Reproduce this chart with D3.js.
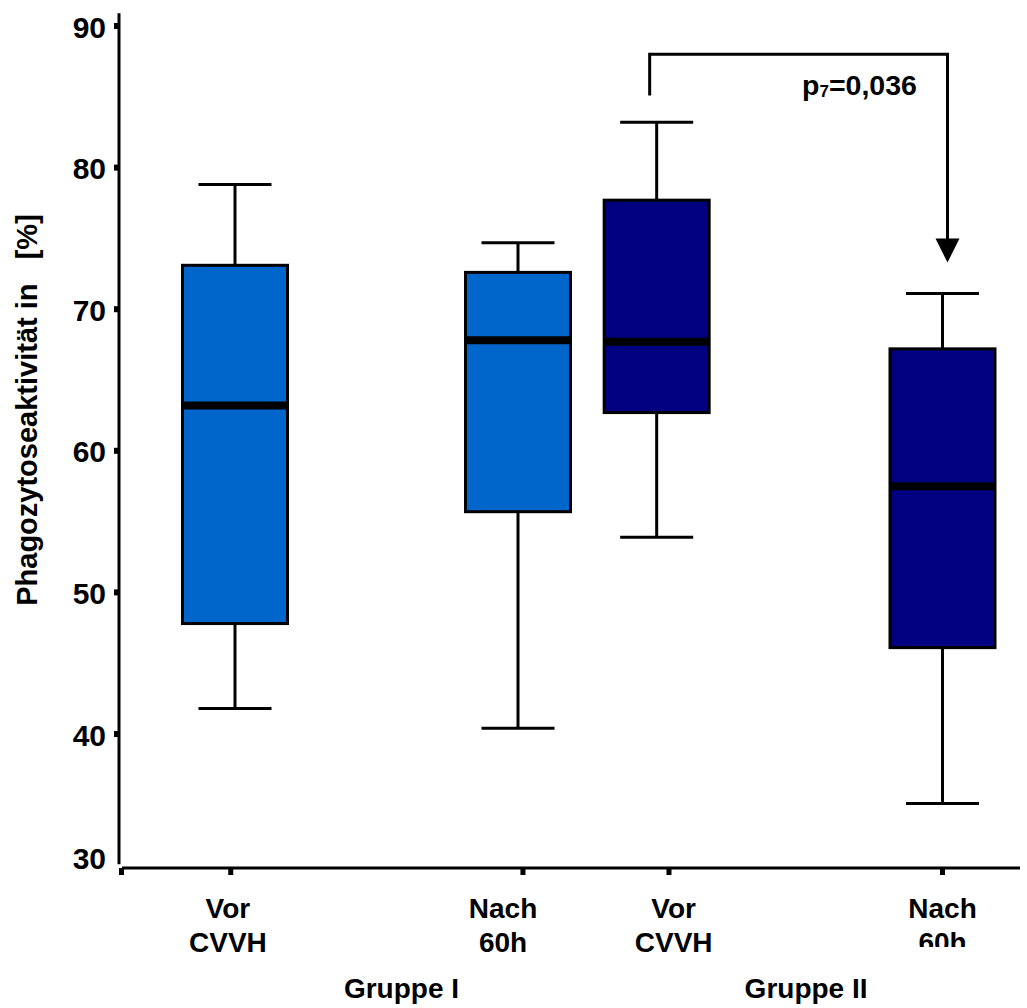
<!DOCTYPE html>
<html>
<head>
<meta charset="utf-8">
<script src="https://cdn.jsdelivr.net/npm/d3@7"></script>
<style>
  html, body { margin: 0; padding: 0; background: #fff; }
  svg { display: block; }
  text { font-family: "Liberation Sans", Arial, Helvetica, sans-serif; font-weight: bold; fill: #000; }
</style>
</head>
<body>
<script>
// Phagocytic activity (%) before and after 60 h CVVH, two patient groups
const groupIds   = ["g1vor", "g1nach", "g2vor", "g2nach"];
const catLine1   = ["Vor", "Nach", "Vor", "Nach"];
const catLine2   = ["CVVH", "60h", "CVVH", "60h"];
const groupNames = ["Gruppe I", "Gruppe II"];
const whiskerLow = [41.8, 40.4, 53.9, 35.1];
const q1         = [47.8, 55.7, 62.7, 46.1];
const medians    = [63.2, 67.8, 67.7, 57.5];
const q3         = [73.1, 72.6, 77.7, 67.2];
const whiskerHigh= [78.8, 74.7, 83.2, 71.1];
const fills      = ["#0066cc", "#0066cc", "#000080", "#000080"];
const yTicks     = [30, 40, 50, 60, 70, 80, 90];
const pLabel     = "0,036";
const pSub       = "7";

const W = 1027, H = 1008;
const svg = d3.select("body").append("svg").attr("width", W).attr("height", H);

const y = d3.scaleLinear().domain([40, 90]).range([734, 26]);
// horizontal slots: boxes sit in uneven columns
const slot = d3.scaleOrdinal().domain(groupIds).range([1, 3, 3.98, 6]);
const tickSlot = d3.scaleOrdinal().domain(groupIds).range([0.97, 3.035, 4.067, 6.0]);
const labelSlot = d3.scaleOrdinal().domain(groupIds).range([0.95, 2.894, 4.10, 6.0]);
const x = d3.scaleLinear().domain([1, 6]).range([235, 942.5]);

const boxW = 105, capW = 73;
const axisX = 119, xAxisY = 868;

// y axis line
svg.append("line")
  .attr("x1", axisX).attr("x2", axisX)
  .attr("y1", y(90.9)).attr("y2", y(30.8))
  .attr("stroke", "#000").attr("stroke-width", 3);

// y ticks (30 sits on the x-axis corner)
const yt = svg.append("g");
yTicks.forEach(v => {
  const ty = v === 30 ? xAxisY + 3 : y(v);
  if (v !== 30) {
    yt.append("rect").attr("x", axisX - 5).attr("y", ty - 3).attr("width", 5).attr("height", 6).attr("fill", "#000");
  }
  yt.append("text")
    .attr("x", 106).attr("y", v === 30 ? xAxisY - 10 : ty + 1)
    .attr("text-anchor", "end").attr("dominant-baseline", "central")
    .attr("font-size", 30).text(v);
});

// x axis line with corner mark
svg.append("line")
  .attr("x1", axisX + 3).attr("x2", 1020)
  .attr("y1", xAxisY).attr("y2", xAxisY)
  .attr("stroke", "#000").attr("stroke-width", 3);
svg.append("rect").attr("x", axisX).attr("y", xAxisY).attr("width", 5).attr("height", 7).attr("fill", "#000");

// x ticks
groupIds.forEach(id => {
  svg.append("rect")
    .attr("x", x(tickSlot(id)) - 2.5).attr("y", xAxisY)
    .attr("width", 5).attr("height", 7).attr("fill", "#000");
});

// category labels (last one is cut off at the bottom)
svg.append("clipPath").attr("id", "cut")
  .append("rect").attr("x", 0).attr("y", 0).attr("width", W).attr("height", 947);
groupIds.forEach((id, i) => {
  const cx = x(labelSlot(id));
  const g = svg.append("g");
  if (i === 3) g.attr("clip-path", "url(#cut)");
  g.append("text").attr("x", cx).attr("y", 918).attr("text-anchor", "middle").attr("font-size", 28).text(catLine1[i]);
  g.append("text").attr("x", cx).attr("y", 952).attr("text-anchor", "middle").attr("font-size", 28).text(catLine2[i]);
});

// group labels, centred between their two columns
groupNames.forEach((name, gi) => {
  const a = x(labelSlot(groupIds[gi * 2])), b = x(labelSlot(groupIds[gi * 2 + 1]));
  svg.append("text")
    .attr("x", (a + b) / 2 + (gi === 1 ? -2 : 36)).attr("y", 998)
    .attr("text-anchor", "middle").attr("font-size", 28).text(name);
});

// y axis title
svg.append("text")
  .attr("transform", `translate(37, 410) rotate(-90)`)
  .attr("text-anchor", "middle").attr("font-size", 29)
  .attr("xml:space", "preserve").style("white-space", "pre")
  .text("Phagozytoseaktivität in   [%]");

// boxes
const boxes = svg.append("g");
groupIds.forEach((id, i) => {
  const cx = x(slot(id));
  const g = boxes.append("g");
  g.append("line").attr("x1", cx).attr("x2", cx).attr("y1", y(whiskerHigh[i])).attr("y2", y(q3[i]))
    .attr("stroke", "#000").attr("stroke-width", 3);
  g.append("line").attr("x1", cx).attr("x2", cx).attr("y1", y(q1[i])).attr("y2", y(whiskerLow[i]))
    .attr("stroke", "#000").attr("stroke-width", 3);
  g.append("line").attr("x1", cx - capW / 2).attr("x2", cx + capW / 2)
    .attr("y1", y(whiskerHigh[i])).attr("y2", y(whiskerHigh[i]))
    .attr("stroke", "#000").attr("stroke-width", 3);
  g.append("line").attr("x1", cx - capW / 2).attr("x2", cx + capW / 2)
    .attr("y1", y(whiskerLow[i])).attr("y2", y(whiskerLow[i]))
    .attr("stroke", "#000").attr("stroke-width", 3);
  g.append("rect")
    .attr("x", cx - boxW / 2).attr("y", y(q3[i]))
    .attr("width", boxW).attr("height", y(q1[i]) - y(q3[i]))
    .attr("fill", fills[i]).attr("stroke", "#000").attr("stroke-width", 3);
  g.append("line").attr("x1", cx - boxW / 2).attr("x2", cx + boxW / 2)
    .attr("y1", y(medians[i])).attr("y2", y(medians[i]))
    .attr("stroke", "#000").attr("stroke-width", 8);
});

// significance bracket between the two Gruppe II columns
const bx1 = x(slot("g2vor")) - 7, bx2 = x(slot("g2nach")) + 5;
svg.append("path")
  .attr("d", `M${bx1},${y(85.1)} V${y(88.0)} H${bx2} V${y(74.5)}`)
  .attr("fill", "none").attr("stroke", "#000").attr("stroke-width", 3);
svg.append("path")
  .attr("d", `M${bx2 - 12},${y(75.0)} L${bx2 + 12},${y(75.0)} L${bx2},${y(73.3)} Z`)
  .attr("fill", "#000");
const pt = svg.append("text").attr("x", 802).attr("y", 95).attr("font-size", 28.5);
pt.append("tspan").text("p");
pt.append("tspan").attr("font-size", 17).attr("dy", 2).text(pSub);
pt.append("tspan").attr("dy", -2).text("=" + pLabel);
</script>
</body>
</html>
